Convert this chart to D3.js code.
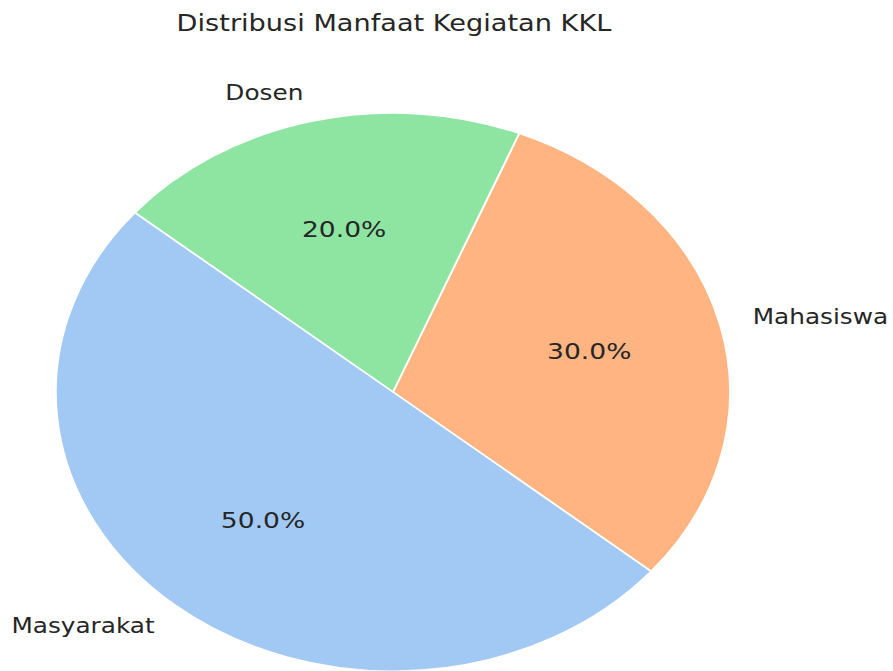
<!DOCTYPE html>
<html>
<head>
<meta charset="utf-8">
<script src="https://cdn.jsdelivr.net/npm/d3@7"></script>
<style>
  body { margin: 0; background: #fff; }
  text { font-family: "DejaVu Sans", sans-serif; fill: #262626; }
</style>
</head>
<body>
<div id="chart"></div>
<script>
var categories = ["Mahasiswa", "Dosen", "Masyarakat"]
var values = [30, 20, 50]
var colors = ["#ffb482", "#8de5a1", "#a1c9f4"]
var title = "Distribusi Manfaat Kegiatan KKL"

function drawPie() {
    let width = 893, height = 671;
    // picture is stretched horizontally, so draw round and scale x
    var sx = 337 / 279;
    var r = 279;
    var cx = 393 / sx, cy = 392;

    var svg = d3.select("#chart")
        .append("svg")
        .attr("width", width)
        .attr("height", height);
    var g = svg.append("g")
        .attr("transform", "scale(" + sx + ",1)");

    g.append("text")
        .attr("x", 394 / sx)
        .attr("y", 31)
        .attr("text-anchor", "middle")
        .style("font-size", "22.5px")
        .text(title);

    // matplotlib style: start at -40deg, counterclockwise
    var start = (90 + 40) * Math.PI / 180;
    var pie = d3.pie()
        .sort(null)
        .value(d => d.value)
        .startAngle(start)
        .endAngle(start - 2 * Math.PI);
    var data = categories.map((c, i) => ({ name: c, value: values[i], color: colors[i] }));
    var arcs = pie(data);
    var total = d3.sum(values);

    var arc = d3.arc().innerRadius(0).outerRadius(r);
    var pieG = g.append("g").attr("transform", "translate(" + cx + "," + cy + ")");
    pieG.selectAll("path")
        .data(arcs)
        .enter()
        .append("path")
        .attr("d", arc)
        .attr("fill", d => d.data.color)
        .attr("stroke", "#fff")
        .attr("stroke-width", 1.6)
        .attr("stroke-linejoin", "round");

    function at(d, k) {
        var a = (d.startAngle + d.endAngle) / 2;
        return [k * r * Math.sin(a), -k * r * Math.cos(a)];
    }
    // outer labels
    pieG.selectAll(".lbl")
        .data(arcs)
        .enter()
        .append("text")
        .attr("class", "lbl")
        .attr("x", d => at(d, 1.1)[0])
        .attr("y", d => at(d, 1.1)[1])
        .attr("dy", "0.3em")
        .attr("text-anchor", d => at(d, 1.1)[0] < 0 ? "end" : "start")
        .style("font-size", "20.5px")
        .text(d => d.data.name);
    // percentages
    pieG.selectAll(".pct")
        .data(arcs)
        .enter()
        .append("text")
        .attr("class", "pct")
        .attr("x", d => at(d, 0.6)[0])
        .attr("y", d => at(d, 0.6)[1])
        .attr("dy", "0.34em")
        .attr("text-anchor", "middle")
        .style("font-size", "22px")
        .text(d => (d.data.value / total * 100).toFixed(1) + "%");
}
drawPie();
</script>
</body>
</html>
